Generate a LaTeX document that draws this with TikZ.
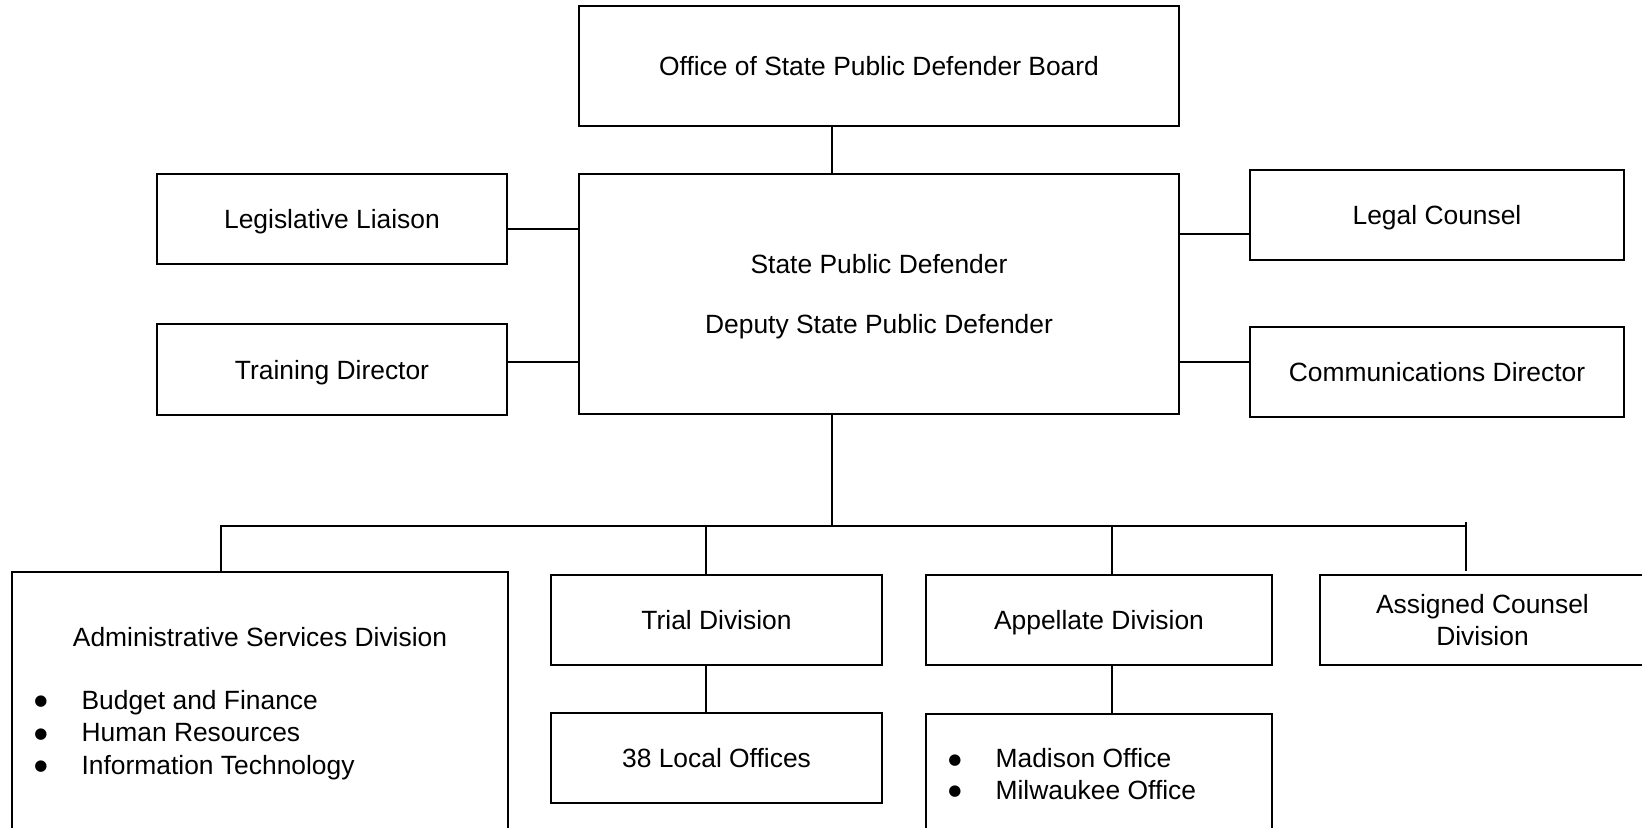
\documentclass[tikz,border=0pt]{standalone}
\usepackage{fontspec}
\setmainfont{Liberation Sans}
\newfontfamily\symfont{DejaVu Sans}
\usepackage{tikz}
\usetikzlibrary{positioning}
\newcommand{\itembul}{\makebox[23.6pt][l]{\smash{\raisebox{1.8pt}{\symfont\fontsize{7.5pt}{7.5pt}\selectfont ●}}}}

\begin{document}
\begin{tikzpicture}[x=0.5pt,y=-0.5pt,line width=1pt,
    font=\fontsize{13.2pt}{15.75pt}\selectfont,
    unit/.style={draw,inner sep=0pt,minimum height=45pt,text depth=0pt},
    txt/.style={inner sep=0pt,align=center}]
\useasboundingbox (0,0) rectangle (1642,828);
\node[unit,minimum width=300pt,minimum height=60pt] (board) at (879,66) {Office of State Public Defender Board};
\node[unit,minimum width=300pt,minimum height=120pt,align=center] (spd) at (879,294) {State Public Defender\\[14.5pt]Deputy State Public Defender};
\node[unit,minimum width=175pt] (legis) at (332,219) {Legislative Liaison};
\node[unit,minimum width=175pt] (train) at (332,369.5) {Training Director};
\node[unit,minimum width=187pt] (legal) at (1437,215) {Legal Counsel};
\node[unit,minimum width=187pt] (comm) at (1437,372) {Communications Director};
\node[unit,minimum width=247.75pt,minimum height=134pt] (admin) at (260,706) {};
\node[txt] (admint) at (260,637) {Administrative Services Division};
\node[txt,align=left,anchor=west,font=\fontsize{13.2pt}{16.25pt}\selectfont] (adminl) at (33.4,735) {\itembul Budget and Finance\\\itembul Human Resources\\\itembul Information Technology};
\node[unit,minimum width=165.5pt] (trial) at (716.5,620) {Trial Division};
\node[unit,minimum width=165.5pt] (local) at (716.5,758) {38 Local Offices};
\node[unit,minimum width=173pt] (appel) at (1099,620) {Appellate Division};
\node[unit,minimum width=173pt,minimum height=63pt] (appsub) at (1099,777) {};
\node[txt,align=left,anchor=west] (appl) at (947.4,774) {\itembul Madison Office\\\itembul Milwaukee Office};
\node[unit,minimum width=162.5pt,align=center] (assign) at (1482.5,620) {Assigned Counsel\\Division};
\coordinate (bus) at (832,526);
\coordinate (actop) at (1466,522);
\coordinate (acend) at (1466,571);
\draw ([xshift=-23.5pt]board.south) -- ([xshift=-23.5pt]spd.north);
\draw ([yshift=-5pt]legis.east) -- ([yshift=-5pt]legis.east -| spd.west);
\draw ([yshift=3.75pt]train.east) -- ([yshift=3.75pt]train.east -| spd.west);
\draw ([yshift=-9.5pt]legal.west) -- ([yshift=-9.5pt]legal.west -| spd.east);
\draw ([yshift=5pt]comm.west) -- ([yshift=5pt]comm.west -| spd.east);
\draw ([xshift=-23.5pt]spd.south) -- (bus);
\draw ([xshift=-19.5pt]admin.north) |- (bus) -- (bus -| actop);
\draw (actop) -- (acend);
\draw ([xshift=-5.25pt]trial.north) -- ([xshift=-5.25pt]trial.north |- bus);
\draw ([xshift=-5.25pt]trial.south) -- ([xshift=-5.25pt]local.north);
\draw ([xshift=6.5pt]appel.north) -- ([xshift=6.5pt]appel.north |- bus);
\draw ([xshift=6.5pt]appel.south) -- ([xshift=6.5pt]appsub.north);
\end{tikzpicture}
\end{document}
